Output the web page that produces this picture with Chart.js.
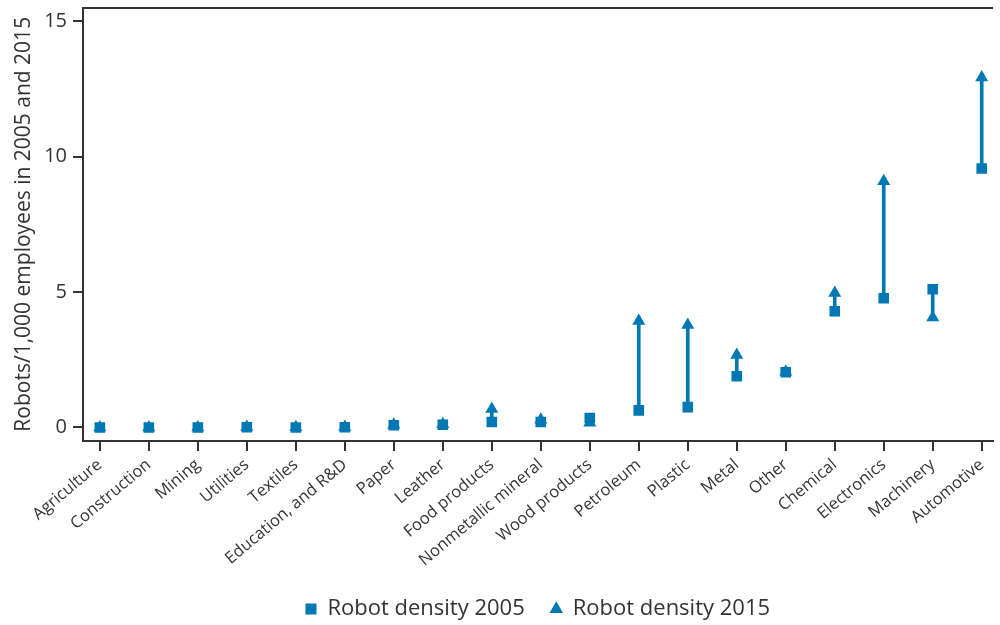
<!DOCTYPE html>
<html>
<head>
<meta charset="utf-8">
<script src="https://cdn.jsdelivr.net/npm/chart.js@4"></script>
<style>
  html,body{margin:0;padding:0;background:#fff;}
  #wrap{width:1000px;height:625px;}
</style>
</head>
<body>
<div id="wrap"><canvas id="chart" width="1000" height="625"></canvas></div>
<script>
const categories = ["Agriculture","Construction","Mining","Utilities","Textiles","Education, and R&D","Paper","Leather","Food products","Nonmetallic mineral","Wood products","Petroleum","Plastic","Metal","Other","Chemical","Electronics","Machinery","Automotive"];
const density2005 = [0.0,0.0,0.0,0.01,0.0,0.01,0.08,0.1,0.2,0.2,0.35,0.63,0.75,1.89,2.04,4.29,4.77,5.1,9.56];
const density2015 = [0.0,0.0,0.0,0.02,0.01,0.02,0.1,0.12,0.68,0.28,0.17,3.93,3.78,2.67,2.06,4.96,9.09,4.06,12.92];
const yTicks = [0,5,10,15];

const BLUE = "#0078b4", INK = "#333333";
const FONT = "'Open Sans', 'DejaVu Sans', sans-serif";

const pts = arr => arr.map((v,i)=>({x:i,y:v}));
const spans = categories.map((c,i)=>({x:i,y:[density2005[i],density2015[i]]}));

new Chart(document.getElementById("chart").getContext("2d"),{
  type:"scatter",
  data:{datasets:[
    {label:"Robot density 2005",data:pts(density2005),pointStyle:"rect",pointRadius:7.5,pointHoverRadius:7.5,backgroundColor:BLUE,borderColor:BLUE,borderWidth:0,order:1},
    {label:"Robot density 2015",data:pts(density2015),pointStyle:"triangle",pointRadius:7.5,pointHoverRadius:7.5,backgroundColor:BLUE,borderColor:BLUE,borderWidth:0,order:2},
    {type:"bar",label:"span",data:spans,backgroundColor:BLUE,barThickness:3,order:3}
  ]},
  options:{
    responsive:false,animation:false,
    layout:{padding:{top:7,right:0,bottom:-5,left:0}},
    plugins:{
      tooltip:{enabled:false},
      legend:{position:"bottom",fullSize:false,
        labels:{usePointStyle:true,boxWidth:11,boxHeight:11,padding:26,color:INK,font:{family:FONT,size:22},
          filter:item=>item.datasetIndex<2}}
    },
    scales:{
      x:{type:"linear",offset:false,min:-0.344,max:18.22,
        afterBuildTicks:s=>{s.ticks=categories.map((c,i)=>({value:i}));},
        afterFit:s=>{s.height=131;},
        ticks:{autoSkip:false,minRotation:40,maxRotation:40,color:INK,padding:4,font:{family:FONT,size:16.5},
          callback:v=>categories[v]},
        grid:{offset:false,drawOnChartArea:false,drawTicks:true,tickLength:10,color:INK,lineWidth:2},
        border:{display:true,color:INK,width:2}},
      x2:{type:"linear",position:"top",offset:false,min:-0.344,max:18.22,
        afterFit:s=>{s.height=0;},
        ticks:{display:false},grid:{display:false},
        border:{display:true,color:INK,width:2}},
      y:{min:-0.5,max:15.5,
        afterBuildTicks:s=>{s.ticks=yTicks.map(v=>({value:v}));},
        afterFit:s=>{s.width=83;s.paddingTop=0;s.paddingBottom=0;},
        ticks:{color:INK,padding:6,font:{family:FONT,size:20}},
        grid:{drawOnChartArea:false,drawTicks:true,tickLength:10,color:INK,lineWidth:2},
        border:{display:true,color:INK,width:2},
        title:{display:true,text:"Robots/1,000 employees in 2005 and 2015",color:INK,padding:{top:11,bottom:0},font:{family:FONT,size:21}}}
    }
  }
});
</script>
</body>
</html>
